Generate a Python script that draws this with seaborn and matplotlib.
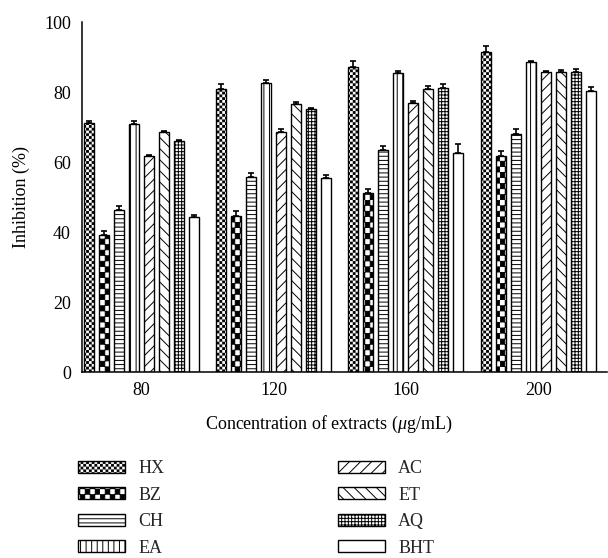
import warnings
import numpy as np
import pandas as pd
import seaborn as sns
import matplotlib
matplotlib.use("Agg")
import matplotlib.pyplot as plt
from matplotlib import hatch as mhatch
from matplotlib.path import Path

warnings.filterwarnings("ignore")

# ---- data -------------------------------------------------------------
concentrations = ["80", "120", "160", "200"]
extracts = ["HX", "BZ", "CH", "EA", "AC", "ET", "AQ", "BHT"]

hx = [71.1, 81.0, 87.2, 91.3]
bz = [39.1, 44.6, 51.2, 61.7]
ch = [46.2, 55.8, 63.4, 68.1]
ea = [70.9, 82.7, 85.3, 88.5]
ac = [61.8, 68.7, 77.0, 85.7]
et = [68.5, 76.6, 81.0, 85.8]
aq = [65.9, 75.1, 81.2, 85.8]
bht = [44.4, 55.5, 62.7, 80.2]

hx_err = [0.5, 1.4, 1.7, 1.8]
bz_err = [1.2, 1.3, 1.1, 1.5]
ch_err = [1.3, 1.1, 1.3, 1.2]
ea_err = [0.9, 0.6, 0.6, 0.5]
ac_err = [0.3, 0.6, 0.5, 0.4]
et_err = [0.4, 0.6, 0.6, 0.6]
aq_err = [0.5, 0.4, 1.2, 0.7]
bht_err = [0.4, 0.7, 2.5, 1.1]

values = [hx, bz, ch, ea, ac, et, aq, bht]
errors = [hx_err, bz_err, ch_err, ea_err, ac_err, et_err, aq_err, bht_err]

# fill pattern per extract ("c" fine checker, "k" coarse checker)
hatches = ["c", "k", "----", "|||", "///", "\\\\\\", "+++++", ""]


# ---- checkerboard hatch patterns ---------------------------------------
HATCH_LW = 0.7  # points


class CheckerHatch(mhatch.HatchPatternBase):
    key = "c"
    nx = 36
    ny = 36
    shrink = 1.0

    def __init__(self, hatch, density):
        if hatch.count(self.key):
            self.cells = [(i, j) for i in range(self.nx) for j in range(self.ny)
                          if (i + j) % 2 == 0]
        else:
            self.cells = []
        self.num_vertices = 5 * len(self.cells)

    def set_vertices_and_codes(self, vertices, codes):
        w = 1.0 / self.nx
        h = 1.0 / self.ny
        d = self.shrink * HATCH_LW / 72.0 / 2.0
        k = 0
        for i, j in self.cells:
            x0, x1 = i * w + d, (i + 1) * w - d
            y0, y1 = j * h + d, (j + 1) * h - d
            vertices[k:k + 5] = [(x0, y0), (x1, y0), (x1, y1), (x0, y1), (x0, y0)]
            codes[k:k + 5] = [Path.MOVETO, Path.LINETO, Path.LINETO,
                              Path.LINETO, Path.CLOSEPOLY]
            k += 5


class CoarseCheckerHatch(CheckerHatch):
    key = "k"
    nx = 20
    ny = 18
    shrink = 0.5


mhatch._hatch_types.extend([CheckerHatch, CoarseCheckerHatch])

# ---- style --------------------------------------------------------------
FS = 13
sns.set_theme(style="white")
plt.rcParams["font.family"] = ["Liberation Serif", "DejaVu Serif"]
plt.rcParams["mathtext.fontset"] = "custom"
plt.rcParams["mathtext.rm"] = "Liberation Serif"
plt.rcParams["mathtext.it"] = "Liberation Serif:italic"
plt.rcParams["hatch.linewidth"] = HATCH_LW
plt.rcParams["hatch.color"] = "black"

df = pd.DataFrame({
    "conc": np.repeat([concentrations], len(extracts), axis=0).ravel(),
    "extract": np.repeat(extracts, len(concentrations)),
    "value": np.concatenate(values),
})

fig = plt.figure(figsize=(6.08, 5.58), dpi=100)
ax = fig.add_axes([0.135, 0.3333, 0.8635, 0.6272])

sns.barplot(data=df, x="conc", y="value", hue="extract",
            order=concentrations, hue_order=extracts,
            palette=["white"] * len(extracts), edgecolor="black",
            linewidth=1.0, width=0.907, gap=0.33, errorbar=None,
            legend=False, ax=ax)

bar_containers = list(ax.containers)
for cont, hatch, err in zip(bar_containers, hatches, errors):
    xs, ys = [], []
    for patch in cont.patches:
        patch.set_hatch(hatch)
        xs.append(patch.get_x() + patch.get_width() / 2)
        ys.append(patch.get_height())
    ax.errorbar(xs, ys, yerr=[np.zeros(len(err)), err], fmt="none",
                ecolor="black", elinewidth=1.2, capsize=2.5, capthick=1.2)

ax.set_xlim(-0.446, 3.52)
ax.set_ylim(0, 100)
ax.set_yticks([0, 20, 40, 60, 80, 100])
ax.tick_params(axis="both", length=0, labelsize=FS, colors="black")
ax.tick_params(axis="y", pad=8)
ax.tick_params(axis="x", pad=7)

for side in ["top", "right"]:
    ax.spines[side].set_visible(False)
for side in ["left", "bottom"]:
    ax.spines[side].set_color("black")
    ax.spines[side].set_linewidth(1.1)

ax.set_xlabel(r"Concentration of extracts ($\mu$g/mL)", fontsize=FS, color="black")
ax.xaxis.set_label_coords(0.47, -0.12)
ax.set_ylabel("Inhibition (%)", fontsize=FS, color="black")
ax.yaxis.set_label_coords(-0.1, 0.5)

handles = [c.patches[0] for c in bar_containers]
fig.legend(handles, extracts, ncol=2, loc="upper left",
           bbox_to_anchor=(78 / 608, 1 - 460 / 558), frameon=False,
           fontsize=FS, handlelength=2.6, handleheight=0.65,
           handletextpad=0.75, labelspacing=0.53, columnspacing=9.6,
           borderpad=0, borderaxespad=0)

fig.savefig("out.png", dpi=100)
